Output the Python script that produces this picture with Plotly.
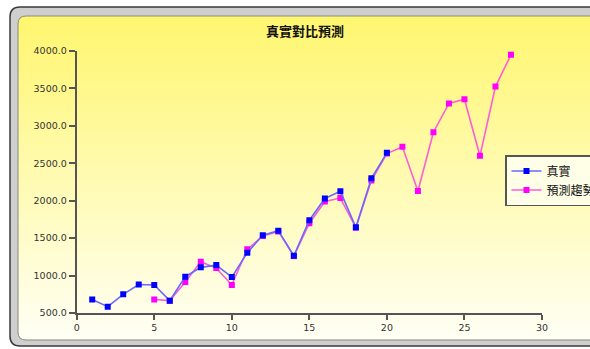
import base64
import struct
import zlib

import plotly.graph_objects as go

# ---- data -------------------------------------------------------------
actual_x = list(range(1, 21))
actual_y = [680, 585, 750, 880, 875, 665, 985, 1110, 1140, 980,
            1305, 1540, 1600, 1265, 1740, 2030, 2125, 1645, 2300, 2640]

forecast_x = list(range(5, 29))
forecast_y = [680, 665, 915, 1185, 1100, 875, 1350, 1530, 1590, 1260,
              1700, 1990, 2035, 1640, 2270, 2630, 2720, 2130, 2915, 3300,
              3355, 2600, 3525, 3950]

title_text = "真實對比預測"
series_names = ["真實", "預測趨勢"]

W, H = 590, 349


def px(x, y):
    """pixel position -> paper fraction (figure has zero margins)"""
    return x / W, 1 - y / H


def gradient_png(top, bottom, n=256):
    rows = b""
    for i in range(n):
        t = i / (n - 1)
        c = bytes(int(round(top[k] + (bottom[k] - top[k]) * t)) for k in range(3))
        rows += b"\x00" + c

    def chunk(tag, data):
        return (struct.pack(">I", len(data)) + tag + data
                + struct.pack(">I", zlib.crc32(tag + data) & 0xffffffff))
    png = b"\x89PNG\r\n\x1a\n"
    png += chunk(b"IHDR", struct.pack(">IIBBBBB", 1, n, 8, 2, 0, 0, 0))
    png += chunk(b"IDAT", zlib.compress(rows))
    png += chunk(b"IEND", b"")
    return "data:image/png;base64," + base64.b64encode(png).decode()


def rounded_rect(x0, y0, x1, y1, r):
    """SVG path of a rounded rectangle in paper coords (input in pixels)"""
    def P(x, y):
        fx, fy = px(x, y)
        return f"{fx:.5f},{fy:.5f}"
    return (f"M{P(x0 + r, y0)} L{P(x1 - r, y0)} "
            f"Q{P(x1, y0)} {P(x1, y0 + r)} L{P(x1, y1 - r)} "
            f"Q{P(x1, y1)} {P(x1 - r, y1)} L{P(x0 + r, y1)} "
            f"Q{P(x0, y1)} {P(x0, y1 - r)} L{P(x0, y0 + r)} "
            f"Q{P(x0, y0)} {P(x0 + r, y0)} Z")


fig = go.Figure()

fig.add_trace(go.Scatter(
    x=forecast_x, y=forecast_y, name=series_names[1], mode="lines+markers",
    line=dict(color="#FF5CD6", width=1.6),
    marker=dict(symbol="square", size=6, color="#FF00FF"),
    legendrank=2,
))
fig.add_trace(go.Scatter(
    x=actual_x, y=actual_y, name=series_names[0], mode="lines+markers",
    line=dict(color="#6868FF", width=1.6),
    marker=dict(symbol="square", size=6, color="#0000FF"),
    legendrank=1,
))

# gradient panel background
gx0, gy0 = px(16, 15)
gx1, gy1 = px(592, 342)
images = [dict(
    source=gradient_png((255, 246, 110), (255, 255, 246)),
    xref="paper", yref="paper", x=gx0, y=gy0,
    sizex=gx1 - gx0, sizey=gy0 - gy1, sizing="stretch",
    xanchor="left", yanchor="top", layer="below",
)]

frame_outer = rounded_rect(10, 7, 620, 346, 10)
frame_inner = rounded_rect(18, 16, 612, 340, 8)
shapes = [
    dict(type="path", path=frame_outer + " " + frame_inner, xref="paper", yref="paper",
         fillcolor="#CFCFCF", fillrule="evenodd", line=dict(width=0), layer="below"),
    dict(type="path", path=frame_outer, xref="paper", yref="paper",
         line=dict(color="#3A3A3A", width=1.5), layer="below"),
    dict(type="path", path=frame_inner, xref="paper", yref="paper",
         line=dict(color="#8A8A7A", width=1), layer="below"),
]

xd0, _ = px(76.7, 0)
xd1, _ = px(542, 0)
_, yd0 = px(0, 313)
_, yd1 = px(0, 51)

axis_font = dict(family="DejaVu Sans", size=9.5, color="#333333")

fig.update_layout(
    width=W, height=H,
    margin=dict(l=0, r=0, t=0, b=0, autoexpand=False),
    paper_bgcolor="white",
    plot_bgcolor="rgba(0,0,0,0)",
    images=images,
    shapes=shapes,
    title=dict(text=f"<b>{title_text}</b>", x=305 / W, xanchor="center",
               y=1 - 31 / H, yanchor="middle",
               font=dict(family="Noto Sans CJK TC", size=13, color="#111111")),
    xaxis=dict(domain=[xd0, xd1], range=[0, 30], dtick=5, tick0=0,
               automargin=False,
               showgrid=False, zeroline=False, showline=True,
               linecolor="#555555", linewidth=2,
               ticks="outside", ticklen=5, tickwidth=1.5, tickcolor="#555555",
               tickfont=axis_font),
    yaxis=dict(domain=[yd0, yd1], range=[500, 4000], dtick=500, tick0=500,
               tickformat=".1f", automargin=False,
               showgrid=False, zeroline=False, showline=True,
               linecolor="#555555", linewidth=2,
               ticks="outside", ticklen=6, tickwidth=1.5, tickcolor="#555555",
               tickfont=axis_font),
    showlegend=True,
    legend=dict(x=505 / W, y=1 - 155 / H, xanchor="left", yanchor="top",
                bgcolor="#FFFFE8", bordercolor="#555555", borderwidth=1.5,
                font=dict(family="Noto Sans CJK TC", size=12, color="#111111"),
                tracegroupgap=0, itemwidth=30),
)

fig.write_html("out.html")
